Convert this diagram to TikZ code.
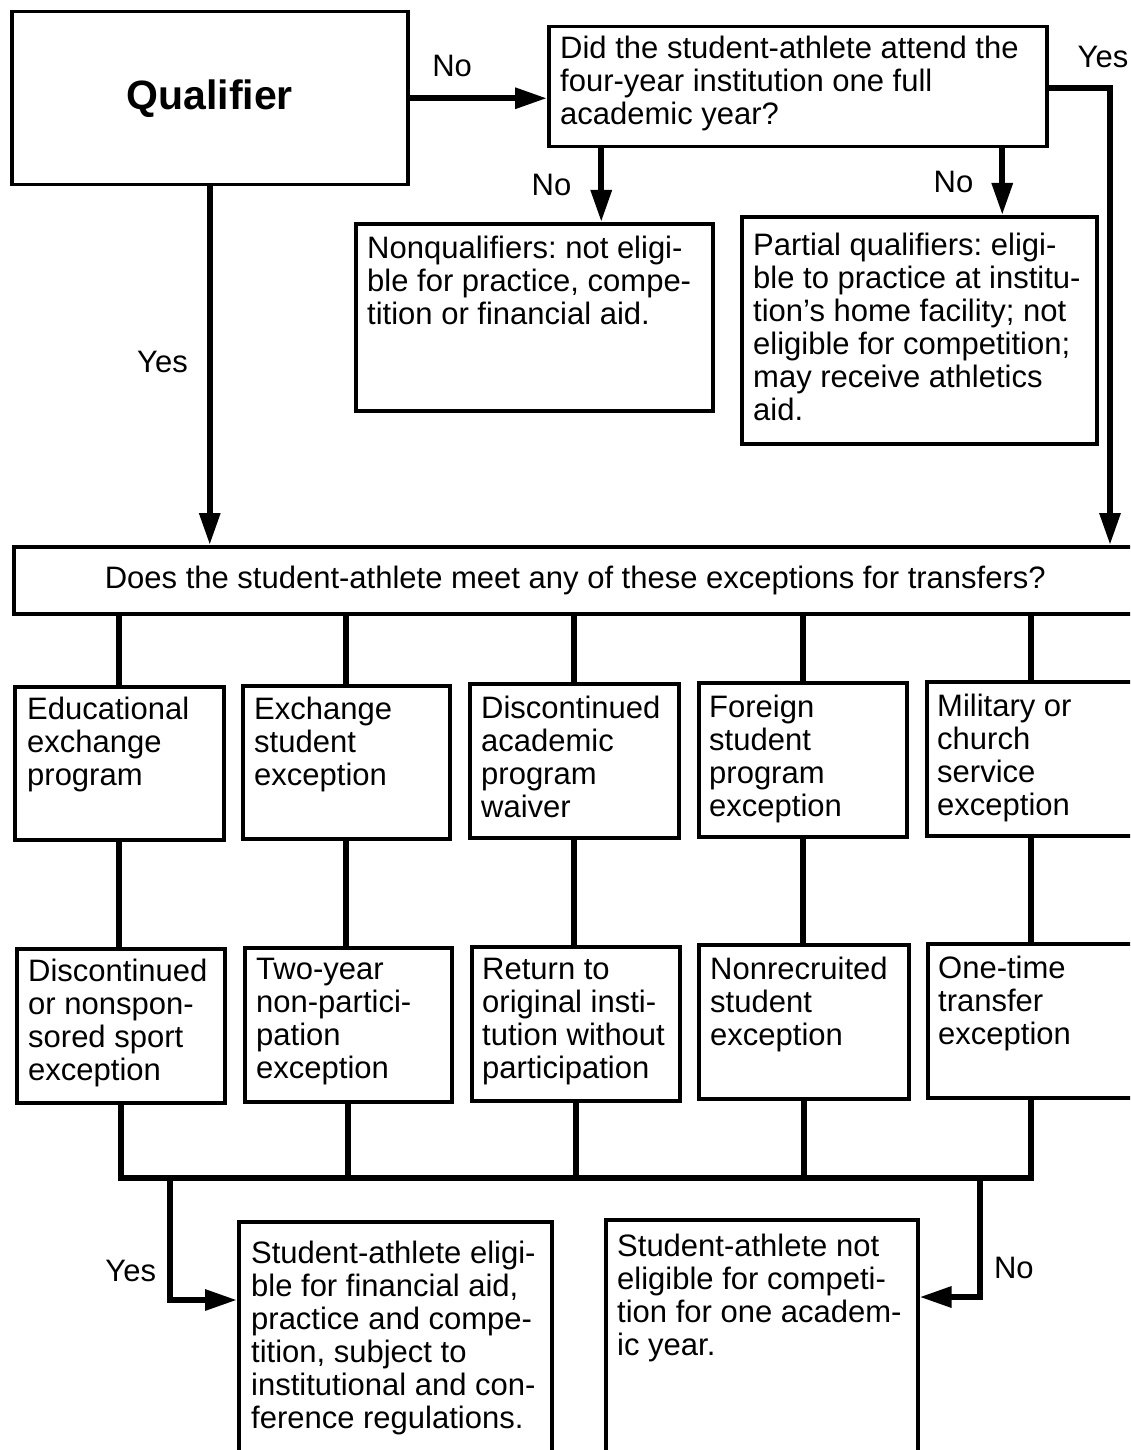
\documentclass[tikz,border=0pt]{standalone}
\usepackage{fontspec}
\setmainfont{Liberation Sans}
\usetikzlibrary{arrows.meta,positioning}
\frenchspacing

\tikzset{
  box/.style={draw, line width=3.5pt, anchor=north west, inner sep=0pt},
  txt/.style={align=left, inner sep=0pt, font=\fontsize{31}{33}\selectfont},
  lbl/.style={inner sep=0pt, font=\fontsize{31}{33}\selectfont},
  line/.style={line width=6pt},
  arr/.style={line width=6pt, -{Triangle[length=32pt,width=20pt]}},
}

\begin{document}
\begin{tikzpicture}[x=1pt,y=-1pt]
  \useasboundingbox (0,0) rectangle (1130,1450);
  \clip (0,0) rectangle (1130,1450);
  % top of the chart
  \node[box, minimum width=396pt, minimum height=173pt, font=\fontsize{41}{45}\selectfont\bfseries] (qual) at (10,10) {Qualifier};
  \node[box, minimum width=498pt, minimum height=120pt] (did) at (547,25) {};
  \node[txt, below right=11pt and 13pt of did.north west] (didT) {Did the student-athlete attend the\\four-year institution one full\\academic year?};
  \node[box, minimum width=357pt, minimum height=187pt] (nonq) at (354,222) {};
  \node[txt, below right=14pt and 13pt of nonq.north west] (nonqT) {Nonqualifiers: not eligi-\\ble for practice, compe-\\tition or financial aid.};
  \node[box, minimum width=355pt, minimum height=227pt] (part) at (740,215) {};
  \node[txt, below right=18pt and 13pt of part.north west] (partT) {Partial qualifiers: eligi-\\ble to practice at institu-\\tion's home facility; not\\eligible for competition;\\may receive athletics\\aid.};
  \node[box, minimum width=1123pt, minimum height=67pt, font=\fontsize{31}{33}\selectfont] (does) at (12,545) {Does the student-athlete meet any of these exceptions for transfers?};
  % exceptions, first row
  \node[box, minimum width=209pt, minimum height=153pt] (educ) at (13,685) {};
  \node[txt, below right=12pt and 14pt of educ.north west] (educT) {Educational\\exchange\\program};
  \node[box, minimum width=207pt, minimum height=153pt] (exch) at (241,684) {};
  \node[txt, below right=13pt and 13pt of exch.north west] (exchT) {Exchange\\student\\exception};
  \node[box, minimum width=209pt, minimum height=154pt] (disc) at (468,682) {};
  \node[txt, below right=14pt and 13pt of disc.north west] (discT) {Discontinued\\academic\\program\\waiver};
  \node[box, minimum width=208pt, minimum height=154pt] (forn) at (697,681) {};
  \node[txt, below right=14pt and 12pt of forn.north west] (fornT) {Foreign\\student\\program\\exception};
  \node[box, minimum width=208pt, minimum height=154pt] (milt) at (925,680) {};
  \node[txt, below right=14pt and 12pt of milt.north west] (miltT) {Military or\\church\\service\\exception};
  % exceptions, second row
  \node[box, minimum width=208pt, minimum height=154pt] (dnsp) at (15,947) {};
  \node[txt, below right=12pt and 13pt of dnsp.north west] (dnspT) {Discontinued\\or nonspon-\\sored sport\\exception};
  \node[box, minimum width=207pt, minimum height=154pt] (twoy) at (243,946) {};
  \node[txt, below right=12pt and 13pt of twoy.north west] (twoyT) {Two-year\\non-partici-\\pation\\exception};
  \node[box, minimum width=208pt, minimum height=154pt] (retn) at (470,945) {};
  \node[txt, below right=13pt and 12pt of retn.north west] (retnT) {Return to\\original insti-\\tution without\\participation};
  \node[box, minimum width=210pt, minimum height=154pt] (nrec) at (697,943) {};
  \node[txt, below right=14pt and 13pt of nrec.north west] (nrecT) {Nonrecruited\\student\\exception};
  \node[box, minimum width=206pt, minimum height=154pt] (onet) at (926,942) {};
  \node[txt, below right=14pt and 12pt of onet.north west] (onetT) {One-time\\transfer\\exception};
  % outcomes
  \node[box, minimum width=313pt, minimum height=260pt] (elig) at (237,1220) {};
  \node[txt, below right=21pt and 14pt of elig.north west] (eligT) {Student-athlete eligi-\\ble for financial aid,\\practice and compe-\\tition, subject to\\institutional and con-\\ference regulations.};
  \node[box, minimum width=312pt, minimum height=260pt] (nelig) at (604,1218) {};
  \node[txt, below right=16pt and 13pt of nelig.north west] (neligT) {Student-athlete not\\eligible for competi-\\tion for one academ-\\ic year.};

  % connectors
  \draw[arr] (qual.east) -- (qual.east -| did.west) node[lbl, pos=0.31, above=18pt] (no1) {No};
  \coordinate (yesR) at (1110,88);
  \draw[arr] (did.east |- yesR) -- (yesR) node[lbl, above=17pt, xshift=-7pt] (yes1) {Yes} -- (yesR |- does.north);
  \coordinate (nonqIn) at ([xshift=67pt]nonq.north);
  \draw[arr] (did.south -| nonqIn) -- (nonqIn) node[lbl, midway, left=27pt] (no2) {No};
  \coordinate (partIn) at ([xshift=83pt]part.north);
  \draw[arr] (did.south -| partIn) -- (partIn) node[lbl, midway, left=26pt] (no3) {No};
  \draw[arr] (qual.south) -- (qual.south |- does.north) node[lbl, pos=0.49, left=19pt] (yes2) {Yes};

  \foreach \a/\b in {educ/dnsp, exch/twoy, disc/retn, forn/nrec, milt/onet} {
    \draw[line] (\a.north |- does.south) -- (\a.north);
    \draw[line] (\a.south) -- (\a.south |- \b.north);
  }
  \coordinate (bus) at (0,1178);
  \foreach \b in {dnsp, twoy, retn, nrec, onet}
    \draw[line] (\b.south) -- (\b.south |- bus);
  \draw[line, line cap=rect] (dnsp.south |- bus) -- (onet.south |- bus);

  \coordinate (yesL) at (170,1178);
  \draw[arr] (yesL) |- ([yshift=-80pt]elig.north west) node[lbl, pos=0.38, left=11pt] (yes3) {Yes};
  \coordinate (noR) at (980,1178);
  \draw[arr] (noR) |- ([yshift=-79pt]nelig.north east) node[lbl, pos=0.38, right=11pt] (no4) {No};
\end{tikzpicture}
\end{document}
